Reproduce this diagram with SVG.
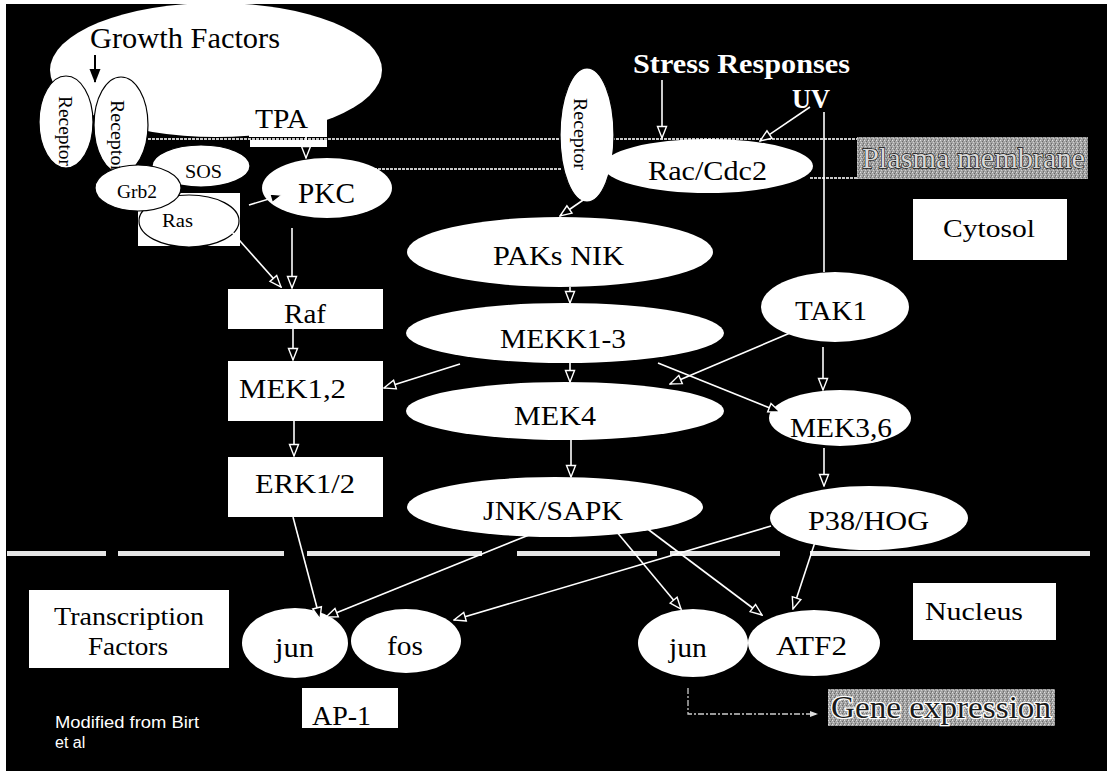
<svg xmlns="http://www.w3.org/2000/svg" width="1107" height="771" viewBox="0 0 1107 771">
<style>
.t{font-family:"Liberation Serif","Times New Roman",serif;fill:#000}
.tb{font-family:"Liberation Serif","Times New Roman",serif;fill:#fff;font-weight:bold}
.w{fill:#fff}
.ws{fill:#fff;stroke:#000;stroke-width:1.2}
.c{stroke:#fff;stroke-width:1.6;fill:none}
.mem{stroke:#c8c8c8;stroke-width:2;stroke-dasharray:3 1;fill:none}
.nuc{fill:#e6e6e6}
</style>
<defs>
<marker id="open" markerUnits="userSpaceOnUse" markerWidth="14" markerHeight="12" viewBox="0 0 14 12" refX="13" refY="6" orient="auto"><path d="M1.5,1.5 L13,6 L1.5,10.5 Z" fill="#000" stroke="#fff" stroke-width="1.4"/></marker>
<marker id="blk" markerUnits="userSpaceOnUse" markerWidth="14" markerHeight="12" viewBox="0 0 14 12" refX="13" refY="6" orient="auto"><path d="M0,0.5 L14,6 L0,11.5 Z" fill="#000"/></marker>
<marker id="sm" markerUnits="userSpaceOnUse" markerWidth="8" markerHeight="8" viewBox="0 0 8 8" refX="7" refY="4" orient="auto"><path d="M0,1 L8,4 L0,7 Z" fill="#ddd"/></marker>
<pattern id="grain" width="4" height="4" patternUnits="userSpaceOnUse"><rect width="4" height="4" fill="#a4a4a4"/><rect x="0" y="0" width="1" height="1" fill="#e0e0e0"/><rect x="2" y="1" width="1" height="1" fill="#6a6a6a"/><rect x="1" y="2" width="1" height="1" fill="#d0d0d0"/><rect x="3" y="3" width="1" height="1" fill="#707070"/><rect x="3" y="0" width="1" height="1" fill="#888"/></pattern>
</defs>
<rect x="0" y="0" width="1107" height="771" fill="#fff"/>
<rect x="6" y="4" width="1101" height="767" fill="#000"/>

<g id="membranes">
<line class="mem" x1="148" y1="139" x2="858" y2="139"/>
<line class="mem" x1="370" y1="169" x2="562" y2="169"/>
<line class="mem" x1="810" y1="178" x2="858" y2="178"/>
<rect class="nuc" x="7" y="551" width="99" height="5"/>
<rect class="nuc" x="118" y="551" width="166" height="5"/>
<rect class="nuc" x="307" y="551" width="175" height="5"/>
<rect class="nuc" x="517" y="551" width="140" height="5"/>
<rect class="nuc" x="670" y="551" width="110" height="5"/>
<rect class="nuc" x="810" y="551" width="280" height="5"/>
</g>

<g id="growth-factors">
<ellipse class="w" cx="216" cy="70" rx="166" ry="67"/>
<text class="t" x="90" y="48" font-size="29" textLength="190" lengthAdjust="spacingAndGlyphs">Growth Factors</text>
</g>
<g id="tpa">
<rect class="w" x="249" y="100" width="78" height="37"/>
<rect class="w" x="250" y="140" width="77" height="7"/>
<text class="t" x="255" y="128" font-size="27" textLength="53" lengthAdjust="spacingAndGlyphs">TPA</text>
</g>
<g id="receptor1">
<ellipse class="ws" cx="66" cy="122" rx="27" ry="46"/>
<text class="t" font-size="19" transform="translate(66,131) rotate(90)" x="-35" y="7" textLength="70" lengthAdjust="spacingAndGlyphs">Receptor</text>
</g>
<g id="receptor2">
<ellipse class="ws" cx="121" cy="125" rx="27" ry="48"/>
<text class="t" font-size="19" transform="translate(118,136) rotate(90)" x="-36" y="7" textLength="72" lengthAdjust="spacingAndGlyphs">Receptor</text>
</g>
<g id="ras">
<rect class="w" x="138" y="193" width="102" height="53"/>
<ellipse class="ws" cx="189" cy="221" rx="50" ry="26"/>
<text class="t" x="162" y="227" font-size="19" textLength="31" lengthAdjust="spacingAndGlyphs">Ras</text>
</g>
<g id="sos">
<ellipse class="ws" cx="201" cy="166" rx="49" ry="21"/>
<text class="t" x="185" y="178" font-size="19" textLength="37" lengthAdjust="spacingAndGlyphs">SOS</text>
</g>
<g id="grb2">
<ellipse class="ws" cx="138" cy="188" rx="43" ry="23"/>
<text class="t" x="117" y="198" font-size="19" textLength="40" lengthAdjust="spacingAndGlyphs">Grb2</text>
</g>
<g id="pkc">
<ellipse class="w" cx="327" cy="188" rx="65" ry="30"/>
<text class="t" x="298" y="203" font-size="29" textLength="57" lengthAdjust="spacingAndGlyphs">PKC</text>
</g>
<g id="raf">
<rect class="w" x="228" y="289" width="155" height="40"/>
<text class="t" x="284" y="323" font-size="27" textLength="42" lengthAdjust="spacingAndGlyphs">Raf</text>
</g>
<g id="mek12">
<rect class="w" x="228" y="361" width="155" height="60"/>
<text class="t" x="239" y="398" font-size="27" textLength="107" lengthAdjust="spacingAndGlyphs">MEK1,2</text>
</g>
<g id="erk12">
<rect class="w" x="228" y="457" width="155" height="60"/>
<text class="t" x="255" y="493" font-size="27" textLength="100" lengthAdjust="spacingAndGlyphs">ERK1/2</text>
</g>
<g id="receptor3">
<ellipse class="ws" cx="587" cy="135" rx="27" ry="67"/>
<text class="t" font-size="19" transform="translate(581,134) rotate(90)" x="-36" y="7" textLength="72" lengthAdjust="spacingAndGlyphs">Receptor</text>
</g>
<g id="rac">
<ellipse class="w" cx="708" cy="166" rx="105" ry="27"/>
<text class="t" x="648" y="180" font-size="27" textLength="119" lengthAdjust="spacingAndGlyphs">Rac/Cdc2</text>
</g>
<g id="paks">
<ellipse class="w" cx="560" cy="252" rx="153" ry="35"/>
<text class="t" x="493" y="265" font-size="27" textLength="131" lengthAdjust="spacingAndGlyphs">PAKs NIK</text>
</g>
<g id="mekk">
<ellipse class="w" cx="565" cy="333" rx="159" ry="30"/>
<text class="t" x="500" y="348" font-size="27" textLength="126" lengthAdjust="spacingAndGlyphs">MEKK1-3</text>
</g>
<g id="mek4">
<ellipse class="w" cx="565" cy="411" rx="159" ry="29"/>
<text class="t" x="514" y="425" font-size="27" textLength="82" lengthAdjust="spacingAndGlyphs">MEK4</text>
</g>
<g id="jnk">
<ellipse class="w" cx="555" cy="507" rx="148" ry="30"/>
<text class="t" x="483" y="520" font-size="27" textLength="140" lengthAdjust="spacingAndGlyphs">JNK/SAPK</text>
</g>
<g id="tak1">
<ellipse class="w" cx="835" cy="307" rx="74" ry="35"/>
<text class="t" x="795" y="320" font-size="27" textLength="72" lengthAdjust="spacingAndGlyphs">TAK1</text>
</g>
<g id="mek36">
<ellipse class="w" cx="840" cy="418" rx="71" ry="28"/>
<text class="t" x="790" y="437" font-size="27" textLength="102" lengthAdjust="spacingAndGlyphs">MEK3,6</text>
</g>
<g id="p38">
<ellipse class="w" cx="869" cy="518" rx="99" ry="32"/>
<text class="t" x="808" y="530" font-size="27" textLength="121" lengthAdjust="spacingAndGlyphs">P38/HOG</text>
</g>
<g id="cytosol">
<rect class="w" x="913" y="199" width="154" height="61"/>
<text class="t" x="943" y="237" font-size="26" textLength="92" lengthAdjust="spacingAndGlyphs">Cytosol</text>
</g>
<g id="plasma-membrane">
<rect x="857" y="137" width="231" height="42" fill="url(#grain)"/>
<text x="862" y="168" font-family="Liberation Serif, serif" font-size="30" fill="#d8d8d8" stroke="#111" stroke-width="1.3" paint-order="stroke" textLength="223" lengthAdjust="spacingAndGlyphs">Plasma membrane</text>
</g>
<g id="transcription-factors">
<rect class="w" x="29" y="590" width="200" height="78"/>
<text class="t" x="54" y="625" font-size="25" textLength="150" lengthAdjust="spacingAndGlyphs">Transcription</text>
<text class="t" x="88" y="655" font-size="25" textLength="80" lengthAdjust="spacingAndGlyphs">Factors</text>
</g>
<g id="jun1">
<ellipse class="w" cx="295" cy="643" rx="53" ry="35"/>
<text class="t" x="275" y="657" font-size="27" textLength="39" lengthAdjust="spacingAndGlyphs">jun</text>
</g>
<g id="fos">
<ellipse class="w" cx="406" cy="641" rx="55" ry="32"/>
<text class="t" x="387" y="655" font-size="27" textLength="36" lengthAdjust="spacingAndGlyphs">fos</text>
</g>
<g id="ap1">
<rect class="w" x="302" y="688" width="96" height="40"/>
<text class="t" x="312" y="725" font-size="27" textLength="59" lengthAdjust="spacingAndGlyphs">AP-1</text>
</g>
<g id="jun2">
<ellipse class="w" cx="693" cy="643" rx="55" ry="34"/>
<text class="t" x="669" y="657" font-size="27" textLength="38" lengthAdjust="spacingAndGlyphs">jun</text>
</g>
<g id="atf2">
<ellipse class="w" cx="814" cy="643" rx="66" ry="33"/>
<text class="t" x="776" y="655" font-size="27" textLength="71" lengthAdjust="spacingAndGlyphs">ATF2</text>
</g>
<g id="nucleus">
<rect class="w" x="913" y="583" width="143" height="57"/>
<text class="t" x="925" y="620" font-size="26" textLength="98" lengthAdjust="spacingAndGlyphs">Nucleus</text>
</g>
<g id="gene-expression">
<rect x="828" y="689" width="227" height="37" fill="url(#grain)"/>
<text x="831" y="718" font-family="Liberation Serif, serif" font-size="31" fill="#1a1a1a" stroke="#fff" stroke-width="2.5" paint-order="stroke" textLength="220" lengthAdjust="spacingAndGlyphs">Gene expression</text>
</g>
<g id="labels">
<text class="tb" x="633" y="73" font-size="27" textLength="217" lengthAdjust="spacingAndGlyphs">Stress Responses</text>
<text class="tb" x="792" y="108" font-size="27" textLength="38" lengthAdjust="spacingAndGlyphs">UV</text>
<text x="55" y="728" font-family="Liberation Sans, Arial, sans-serif" font-size="16" fill="#fff" textLength="144" lengthAdjust="spacingAndGlyphs">Modified from Birt</text>
<text x="55" y="748" font-family="Liberation Sans, Arial, sans-serif" font-size="16" fill="#fff">et al</text>
</g>

<g id="connectors">
<line x1="95" y1="55" x2="95" y2="82" stroke="#000" stroke-width="2" marker-end="url(#blk)"/>
<line class="c" x1="306" y1="128" x2="306" y2="158" marker-end="url(#open)"/>
<line class="c" x1="249" y1="205" x2="282" y2="195" marker-end="url(#open)"/>
<line class="c" x1="232" y1="232" x2="281" y2="287" marker-end="url(#open)"/>
<line class="c" x1="292" y1="228" x2="292" y2="288" marker-end="url(#open)"/>
<line class="c" x1="293" y1="329" x2="293" y2="360" marker-end="url(#open)"/>
<line class="c" x1="294" y1="421" x2="294" y2="456" marker-end="url(#open)"/>
<line class="c" x1="293" y1="517" x2="320" y2="619" marker-end="url(#open)"/>
<line class="c" x1="662" y1="80" x2="662" y2="138" marker-end="url(#open)"/>
<line class="c" x1="810" y1="107" x2="760" y2="141" marker-end="url(#open)"/>
<line class="c" x1="824" y1="112" x2="824" y2="272"/>
<line class="c" x1="602" y1="187" x2="560" y2="216" marker-end="url(#open)"/>
<line class="c" x1="570" y1="287" x2="570" y2="303" marker-end="url(#open)"/>
<line class="c" x1="570" y1="363" x2="570" y2="382" marker-end="url(#open)"/>
<line class="c" x1="571" y1="440" x2="571" y2="477" marker-end="url(#open)"/>
<line class="c" x1="460" y1="364" x2="384" y2="388" marker-end="url(#open)"/>
<line class="c" x1="790" y1="333" x2="670" y2="384" marker-end="url(#open)"/>
<line class="c" x1="658" y1="363" x2="780" y2="412" marker-end="url(#open)"/>
<line class="c" x1="823" y1="347" x2="823" y2="390" marker-end="url(#open)"/>
<line class="c" x1="824" y1="448" x2="824" y2="486" marker-end="url(#open)"/>
<line class="c" x1="529" y1="535" x2="326" y2="617" marker-end="url(#open)"/>
<line class="c" x1="771" y1="526" x2="454" y2="620" marker-end="url(#open)"/>
<line class="c" x1="611" y1="525" x2="681" y2="609" marker-end="url(#open)"/>
<line class="c" x1="625" y1="512" x2="762" y2="615" marker-end="url(#open)"/>
<line class="c" x1="818" y1="533" x2="793" y2="609" marker-end="url(#open)"/>
<path d="M688,688 V714 H817" stroke="#ccc" stroke-width="1.3" fill="none" stroke-dasharray="6 2 2 2" marker-end="url(#sm)"/>
</g>
</svg>
